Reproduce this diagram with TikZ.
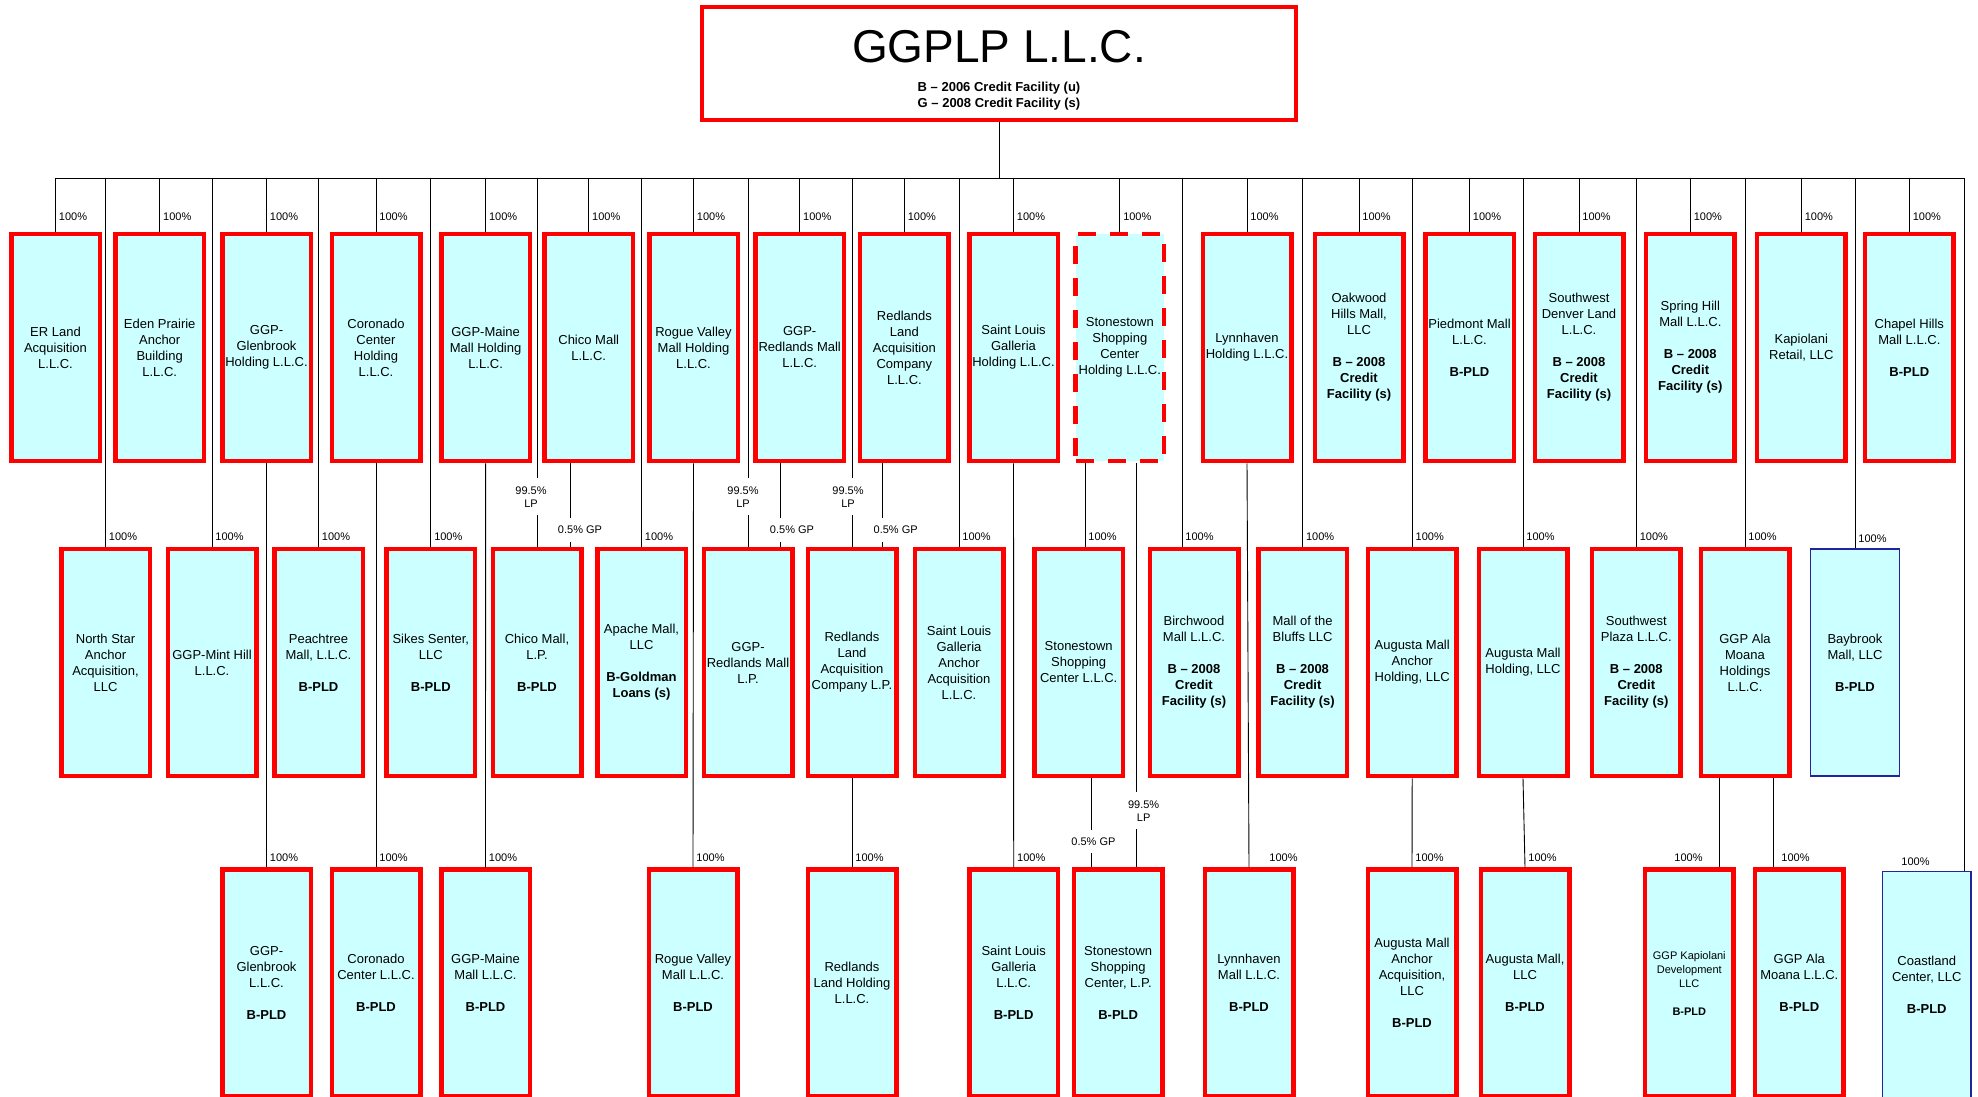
\documentclass[tikz,border=0pt]{standalone}
\usepackage{fontspec}
\setmainfont{Liberation Sans}
\usetikzlibrary{positioning, calc}
\definecolor{boxfill}{RGB}{204,255,255}
\definecolor{edgeblue}{RGB}{35,35,160}
\newcommand{\bcredit}{\textbf{B -- 2008}\\\textbf{Credit}\\\textbf{Facility (s)}}
\newcommand{\bpld}{\textbf{B-PLD}}

\begin{document}
\begin{tikzpicture}
    [x=1pt, y=-1pt, line width=0.9pt,
      ent/.style={draw=red, line width=4.5pt, fill=boxfill, minimum width=88.5pt,
        minimum height=227pt, inner sep=1pt, align=center, font=\fontsize{13}{16}\selectfont},
      entdash/.style={ent, dash pattern=on 18pt off 14pt},
      entblue/.style={ent, draw=edgeblue, line width=1.2pt},
      pctbase/.style={anchor=base west, xshift=3pt, inner sep=0pt, font=\fontsize{11}{13}\selectfont},
      pct/.style={pctbase, yshift=6pt},
      pcttop/.style={pctbase, yshift=11pt},
      split/.style={fill=white, inner xsep=1pt, inner ysep=8pt, align=center,
        font=\fontsize{11}{13}\selectfont}]

    \useasboundingbox (0,0) rectangle (1978,1096);
    \clip (0,0) rectangle (1978,1096);

    \node[ent, fill=white, line width=4.3pt, minimum width=593.5pt, minimum height=112.5pt]
      (ggplp) at (999,63.5) {};
    \node[font=\fontsize{46}{46}\selectfont, anchor=base] (title) at (999,62) {GGPLP L.L.C.};
    \node[font=\bfseries\fontsize{13}{16}\selectfont, align=center] (facil) at (999,96)
      {B -- 2006 Credit Facility (u)\\G -- 2008 Credit Facility (s)};
    \coordinate (bus) at (999,178);
    \draw (ggplp.south) -- (bus);

    \node[ent] (er) at (55.5,347.5) {ER Land\\Acquisition\\L.L.C.};
    \node[ent] (eden) at (159.7,347.5) {Eden Prairie\\Anchor\\Building\\L.L.C.};
    \node[ent] (glenh) at (266.5,347.5) {GGP-\\Glenbrook\\Holding L.L.C.};
    \node[ent] (coroh) at (376,347.5) {Coronado\\Center\\Holding\\L.L.C.};
    \node[ent] (maineh) at (485.6,347.5) {GGP-Maine\\Mall Holding\\L.L.C.};
    \node[ent] (chicoh) at (588.7,347.5) {Chico Mall\\L.L.C.};
    \node[ent] (rogueh) at (693.5,347.5) {Rogue Valley\\Mall Holding\\L.L.C.};
    \node[ent] (redh) at (799.7,347.5) {GGP-\\Redlands Mall\\L.L.C.};
    \node[ent] (rlac) at (904.4,347.5) {Redlands\\Land\\Acquisition\\Company\\L.L.C.};
    \node[ent] (stlh) at (1013.5,347.5) {Saint Louis\\Galleria\\Holding L.L.C.};
    \node[entdash] (stoneh) at (1119.8,347.5) {Stonestown\\Shopping\\Center\\Holding L.L.C.};
    \node[ent] (lynnh) at (1247,347.5) {Lynnhaven\\Holding L.L.C.};
    \node[ent] (oak) at (1359,347.5) {Oakwood\\Hills Mall,\\LLC\\[16pt]\bcredit};
    \node[ent] (pied) at (1469.5,347.5) {Piedmont Mall\\L.L.C.\\[16pt]\bpld};
    \node[ent] (swdl) at (1579,347.5) {Southwest\\Denver Land\\L.L.C.\\[16pt]\bcredit};
    \node[ent] (spring) at (1690.3,347.5) {Spring Hill\\Mall L.L.C.\\[16pt]\bcredit};
    \node[ent] (kap) at (1801.3,347.5) {Kapiolani\\Retail, LLC};
    \node[ent] (chapel) at (1909.3,347.5) {Chapel Hills\\Mall L.L.C.\\[16pt]\bpld};

    \node[ent] (nstar) at (105.5,662.5) {North Star\\Anchor\\Acquisition,\\LLC};
    \node[ent] (mint) at (212,662.5) {GGP-Mint Hill\\L.L.C.};
    \node[ent] (peach) at (318.5,662.5) {Peachtree\\Mall, L.L.C.\\[16pt]\bpld};
    \node[ent] (sikes) at (430.8,662.5) {Sikes Senter,\\LLC\\[16pt]\bpld};
    \node[ent] (chicolp) at (537,662.5) {Chico Mall,\\L.P.\\[16pt]\bpld};
    \node[ent] (apache) at (641.5,662.5)
      {Apache Mall,\\LLC\\[16pt]\textbf{B-Goldman}\\\textbf{Loans (s)}};
    \node[ent] (redlp) at (748,662.5) {GGP-\\Redlands Mall\\L.P.};
    \node[ent] (rlacp) at (852,662.5) {Redlands\\Land\\Acquisition\\Company L.P.};
    \node[ent] (stlanc) at (959,662.5) {Saint Louis\\Galleria\\Anchor\\Acquisition\\L.L.C.};
    \node[ent] (stonel) at (1078.7,662.5) {Stonestown\\Shopping\\Center L.L.C.};
    \node[ent] (birch) at (1194,662.5) {Birchwood\\Mall L.L.C.\\[16pt]\bcredit};
    \node[ent] (bluffs) at (1302.6,662.5) {Mall of the\\Bluffs LLC\\[16pt]\bcredit};
    \node[ent] (augah) at (1412.2,662.5) {Augusta Mall\\Anchor\\Holding, LLC};
    \node[ent] (augh) at (1523,662.5) {Augusta Mall\\Holding, LLC};
    \node[ent] (swplaza) at (1636.3,662.5) {Southwest\\Plaza L.L.C.\\[16pt]\bcredit};
    \node[ent] (alah) at (1745,662.5) {GGP Ala\\Moana\\Holdings\\L.L.C.};
    \node[entblue] (bay) at (1855,662.5) {Baybrook\\Mall, LLC\\[16pt]\bpld};

    \node[ent] (glen) at (266.5,983) {GGP-\\Glenbrook\\L.L.C.\\[16pt]\bpld};
    \node[ent] (coro) at (376,983) {Coronado\\Center L.L.C.\\[16pt]\bpld};
    \node[ent] (maine) at (485.5,983) {GGP-Maine\\Mall L.L.C.\\[16pt]\bpld};
    \node[ent] (rogue) at (693,983) {Rogue Valley\\Mall L.L.C.\\[16pt]\bpld};
    \node[ent] (rlh) at (852,983) {Redlands\\Land Holding\\L.L.C.};
    \node[ent] (stl) at (1013.7,983) {Saint Louis\\Galleria\\L.L.C.\\[16pt]\bpld};
    \node[ent] (stonelp) at (1118.2,983) {Stonestown\\Shopping\\Center, L.P.\\[16pt]\bpld};
    \node[ent] (lynn) at (1249,983) {Lynnhaven\\Mall L.L.C.\\[16pt]\bpld};
    \node[ent] (augaa) at (1412,983) {Augusta Mall\\Anchor\\Acquisition,\\LLC\\[16pt]\bpld};
    \node[ent] (aug) at (1525,983) {Augusta Mall,\\LLC\\[16pt]\bpld};
    \node[ent, font=\fontsize{11}{14}\selectfont] (kapdev) at (1689.3,983)
      {GGP Kapiolani\\Development\\LLC\\[14pt]\bpld};
    \node[ent] (ala) at (1799.3,983) {GGP Ala\\Moana L.L.C.\\[16pt]\bpld};
    \node[entblue] (coast) at (1926.7,985) {Coastland\\Center, LLC\\[16pt]\bpld};

    \draw (bus) -| (er.north) node[pcttop] {100\%};
    \draw (bus) -| (eden.north) node[pcttop] {100\%};
    \draw (bus) -| (glenh.north) node[pcttop] {100\%};
    \draw (bus) -| (coroh.north) node[pcttop] {100\%};
    \draw (bus) -| (maineh.north) node[pcttop] {100\%};
    \draw (bus) -| (chicoh.north) node[pcttop] {100\%};
    \draw (bus) -| (rogueh.north) node[pcttop] {100\%};
    \draw (bus) -| (redh.north) node[pcttop] {100\%};
    \draw (bus) -| (rlac.north) node[pcttop] {100\%};
    \draw (bus) -| (stlh.north) node[pcttop] {100\%};
    \draw (bus) -| (stoneh.north) node[pcttop] {100\%};
    \draw (bus) -| (lynnh.north) node[pcttop] {100\%};
    \draw (bus) -| (oak.north) node[pcttop] {100\%};
    \draw (bus) -| (pied.north) node[pcttop] {100\%};
    \draw (bus) -| (swdl.north) node[pcttop] {100\%};
    \draw (bus) -| (spring.north) node[pcttop] {100\%};
    \draw (bus) -| (kap.north) node[pcttop] {100\%};
    \draw (bus) -| (chapel.north) node[pcttop] {100\%};

    \draw (bus) -| (nstar.north) node[pct] {100\%};
    \draw (bus) -| (mint.north) node[pct] {100\%};
    \draw (bus) -| (peach.north) node[pct] {100\%};
    \draw (bus) -| (sikes.north) node[pct] {100\%};
    \draw (bus) -| (apache.north) node[pct] {100\%};
    \draw (bus) -| (stlanc.north) node[pct] {100\%};
    \draw (bus) -| ([xshift=-12pt]birch.north) node[pct] {100\%};
    \draw (bus) -| (bluffs.north) node[pct] {100\%};
    \draw (bus) -| (augah.north) node[pct] {100\%};
    \draw (bus) -| (augh.north) node[pct] {100\%};
    \draw (bus) -| (swplaza.north) node[pct] {100\%};
    \draw (bus) -| (alah.north) node[pct] {100\%};
    \draw (bus) -| (bay.north) node[pct] {100\%};
    \draw (bus) -| ([xshift=37.3pt]coast.north)
      node[pctbase, anchor=base east, xshift=-37pt, yshift=5pt] {100\%};

    \draw (bus) -| (chicolp.north);
    \node[split] (lpchico) at ($(chicolp.north)+(-6,-50)$) {99.5\%\\LP};
    \draw (bus) -| (redlp.north);
    \node[split] (lpred) at ($(redlp.north)+(-5,-50)$) {99.5\%\\LP};
    \draw (bus) -| (rlacp.north);
    \node[split] (lprlac) at ($(rlacp.north)+(-4,-50)$) {99.5\%\\LP};

    \draw ([xshift=-18.7pt]chicoh.south) --
    node[split, pos=0.8, xshift=10pt] (gpchico) {0.5\% GP} ([xshift=33pt]chicolp.north);
    \draw ([xshift=-19.7pt]redh.south) --
    node[split, pos=0.8, xshift=12pt] (gpred) {0.5\% GP} ([xshift=32pt]redlp.north);
    \draw ([xshift=-21.7pt]rlac.south) --
    node[split, pos=0.8, xshift=13pt] (gprlac) {0.5\% GP} ([xshift=30.7pt]rlacp.north);

    \draw ([xshift=-34.8pt]stoneh.south) -- ([xshift=6.3pt]stonel.north) node[pct] {100\%};
    \draw ([xshift=16.2pt]stoneh.south) --
    node[split, pos=0.86, xshift=7.6pt] (lpstone) {99.5\%\\LP} ([xshift=17.8pt]stonelp.north);
    \draw ([xshift=12.7pt]stonel.south) --
    node[split, pos=0.71, xshift=2pt] (gpstone) {0.5\% GP} ([xshift=-26.8pt]stonelp.north);

    \draw (glenh.south) -- (glen.north) node[pct] {100\%};
    \draw (coroh.south) -- (coro.north) node[pct] {100\%};
    \draw (maineh.south) -- (maine.north) node[pct] {100\%};
    \draw (rogueh.south) -- (rogue.north) node[pct] {100\%};
    \draw (stlh.south) -- (stl.north) node[pct] {100\%};
    \draw (lynnh.south) -- (lynn.north) node[pct, xshift=17pt] {100\%};
    \draw (rlacp.south) -- (rlh.north) node[pct] {100\%};
    \draw (augah.south) -- (augaa.north) node[pct] {100\%};
    \draw (augh.south) -- (aug.north) node[pct] {100\%};
    \draw ([xshift=-26pt]alah.south) -- ([xshift=29.7pt]kapdev.north)
      node[pct, anchor=base east, xshift=-19pt] {100\%};
    \draw ([xshift=28pt]alah.south) -- ([xshift=-26.3pt]ala.north) node[pct, xshift=5pt] {100\%};
\end{tikzpicture}
\end{document}
